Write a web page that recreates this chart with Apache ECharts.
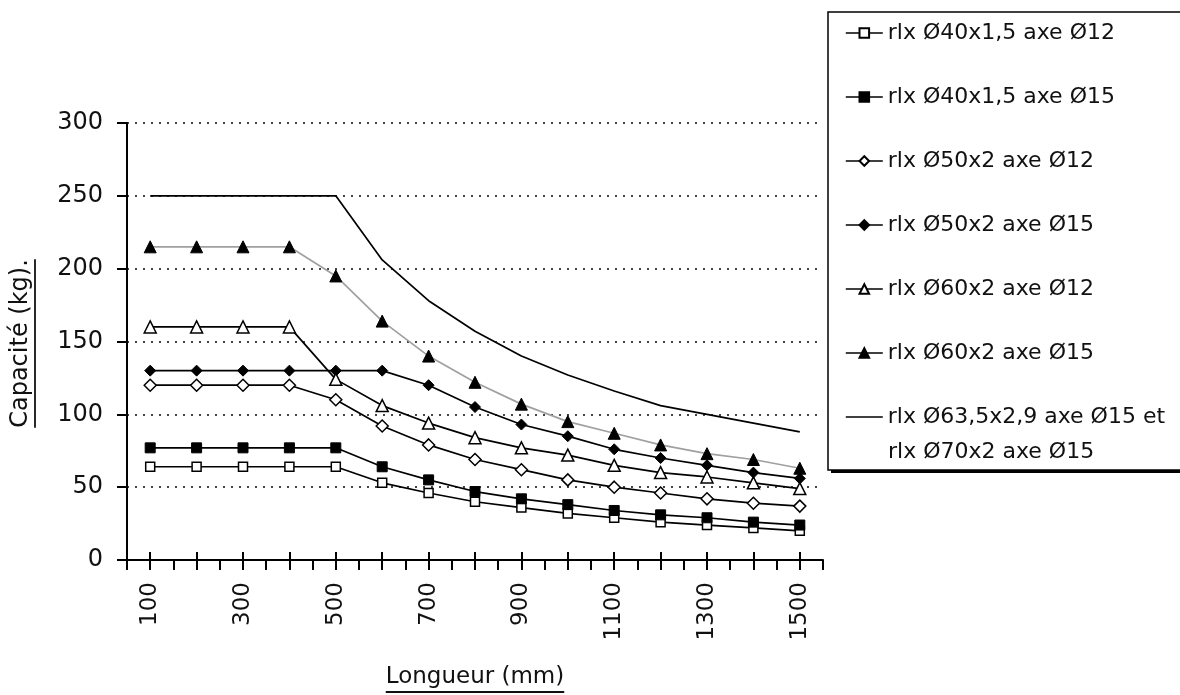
<!DOCTYPE html>
<html>
<head>
<meta charset="utf-8">
<script src="https://cdn.jsdelivr.net/npm/echarts@6/dist/echarts.min.js"></script>
<style>
html,body{margin:0;padding:0;background:#fff;}
#main{width:1180px;height:695px;}
</style>
</head>
<body>
<div id="main"></div>
<script>
// ---- data ----
var categories = ['100','200','300','400','500','600','700','800','900','1000','1100','1200','1300','1400','1500'];
var names = [
  'rlx Ø40x1,5 axe Ø12',
  'rlx Ø40x1,5 axe Ø15',
  'rlx Ø50x2 axe Ø12',
  'rlx Ø50x2 axe Ø15',
  'rlx Ø60x2 axe Ø12',
  'rlx Ø60x2 axe Ø15',
  'rlx Ø63,5x2,9 axe Ø15 et\nrlx Ø70x2 axe Ø15'
];
var s40x15_12 = [64,64,64,64,64,53,46,40,36,32,29,26,24,22,20];
var s40x15_15 = [77,77,77,77,77,64,55,47,42,38,34,31,29,26,24];
var s50x2_12  = [120,120,120,120,110,92,79,69,62,55,50,46,42,39,37];
var s50x2_15  = [130,130,130,130,130,130,120,105,93,85,76,70,65,60,56];
var s60x2_12  = [160,160,160,160,124,106,94,84,77,72,65,60,57,53,49];
var s60x2_15  = [215,215,215,215,195,164,140,122,107,95,87,79,73,69,63];
var s63_70    = [250,250,250,250,250,206,178,157,140,127,116,106,100,94,88];
var yTicks = { min: 0, max: 300, interval: 50 };
var xTitle = 'Longueur (mm)';
var yTitle = 'Capacité (kg).';

// ---- helpers ----
var FONT = 'DejaVu Sans';
function measure(text, size) {
  var c = document.createElement('canvas').getContext('2d');
  c.font = size + 'px "' + FONT + '"';
  return c.measureText(text).width;
}
var gridL = 127, gridR = 823, gridT = 123, gridB = 560;

function mk(name, data, symbol, size, filled, lineColor) {
  return {
    name: name, type: 'line', data: data,
    symbol: symbol, symbolSize: size, showSymbol: symbol !== 'none',
    xAxisIndex: 0, yAxisIndex: 0,
    lineStyle: { color: lineColor || '#000', width: 1.7 },
    itemStyle: filled ? { color: '#000', borderColor: '#000', borderWidth: 1 }
                      : { color: '#fff', borderColor: '#000', borderWidth: 1.5 },
    emphasis: { disabled: true },
    animation: false, z: 3
  };
}

var series = [
  mk(names[0], s40x15_12, 'rect', 9, false),
  mk(names[1], s40x15_15, 'rect', 10, true),
  mk(names[2], s50x2_12, 'diamond', 12, false),
  mk(names[3], s50x2_15, 'diamond', 11, true),
  mk(names[4], s60x2_12, 'triangle', 12, false),
  mk(names[5], s60x2_15, 'triangle', 12, true, '#a0a0a0'),
  mk(names[6], s63_70, 'none', 0, true)
];

var xw = measure(xTitle, 23);
var yw = measure(yTitle, 24);
var xcx = (gridL + gridR) / 2, ycy = (gridT + gridB) / 2 + 2;
var lastLines = names[6].split('\n');

var tickAxisBase = {
  type: 'category', data: categories, gridIndex: 0, position: 'bottom', offset: 0,
  axisLine: { show: false }, axisLabel: { show: false }, splitLine: { show: false }
};

var option = {
  backgroundColor: '#fff',
  animation: false,
  grid: { left: gridL, right: 1180 - gridR, top: gridT, bottom: 695 - gridB, containLabel: false },
  xAxis: [
    {
      type: 'category', data: categories, boundaryGap: true, position: 'bottom',
      axisLine: { show: true, lineStyle: { color: '#000', width: 2 } },
      axisTick: { show: true, interval: 0, alignWithLabel: false, length: 10, lineStyle: { color: '#000', width: 2 } },
      axisLabel: { interval: 1, rotate: 90, margin: 22, fontSize: 23, fontFamily: FONT, color: '#111', align: 'right', verticalAlign: 'middle' },
      splitLine: { show: false }
    },
    Object.assign({}, tickAxisBase, {
      axisTick: { show: true, interval: 0, alignWithLabel: true, inside: true, length: 8, lineStyle: { color: '#000', width: 2 } }
    }),
    Object.assign({}, tickAxisBase, {
      axisTick: { show: true, interval: 0, alignWithLabel: true, inside: false, length: 10, lineStyle: { color: '#000', width: 2 } }
    })
  ],
  yAxis: {
    type: 'value', min: yTicks.min, max: yTicks.max, interval: yTicks.interval,
    axisLine: { show: true, lineStyle: { color: '#000', width: 2 } },
    axisTick: { show: true, length: 10, lineStyle: { color: '#000', width: 2 } },
    axisLabel: { margin: 24, fontSize: 24, fontFamily: FONT, color: '#111' },
    splitLine: { show: true, lineStyle: { color: '#444', width: 2, type: [2, 6] } }
  },
  legend: {
    orient: 'vertical', left: 845, top: 16, padding: 0,
    itemWidth: 37, itemHeight: 12, itemGap: 30,
    selectedMode: false,
    formatter: function (n) { return n.split('\n')[0]; },
    textStyle: { fontFamily: FONT, fontSize: 22, color: '#111', lineHeight: 34 },
    data: names.map(function (n, i) {
      var d = { name: n, lineStyle: { color: '#000', width: 1.6 } };
      if (i === 6) {
        d.icon = 'path://M0,0H40V1.6H0Z';
        d.itemStyle = { color: '#000', borderWidth: 0 };
      }
      return d;
    })
  },
  graphic: [
    { type: 'rect', shape: { x: 831, y: 15, width: 400, height: 458 }, style: { fill: '#000' }, z: 0 },
    { type: 'rect', shape: { x: 828, y: 12, width: 400, height: 458 }, style: { fill: '#fff', stroke: '#000', lineWidth: 1.5 }, z: 1 },
    { type: 'text', x: 888, y: 452, style: { text: lastLines[1], font: '22px "' + FONT + '"', fill: '#111', align: 'left', verticalAlign: 'middle' }, z: 5 },
    { type: 'text', x: xcx, y: 677, style: { text: xTitle, font: '23px "' + FONT + '"', fill: '#111', align: 'center', verticalAlign: 'middle' }, z: 5 },
    { type: 'line', shape: { x1: xcx - xw / 2, y1: 692, x2: xcx + xw / 2, y2: 692 }, style: { stroke: '#111', lineWidth: 1.8 }, z: 5 },
    { type: 'text', x: 21, y: ycy, rotation: Math.PI / 2, style: { text: yTitle, font: '24px "' + FONT + '"', fill: '#111', align: 'center', verticalAlign: 'middle' }, z: 5 },
    { type: 'line', shape: { x1: 35, y1: ycy - yw / 2, x2: 35, y2: ycy + yw / 2 }, style: { stroke: '#111', lineWidth: 1.8 }, z: 5 }
  ],
  series: series
};

var chart = echarts.init(document.getElementById('main'), null, { renderer: 'canvas' });
chart.setOption(option);
</script>
</body>
</html>
